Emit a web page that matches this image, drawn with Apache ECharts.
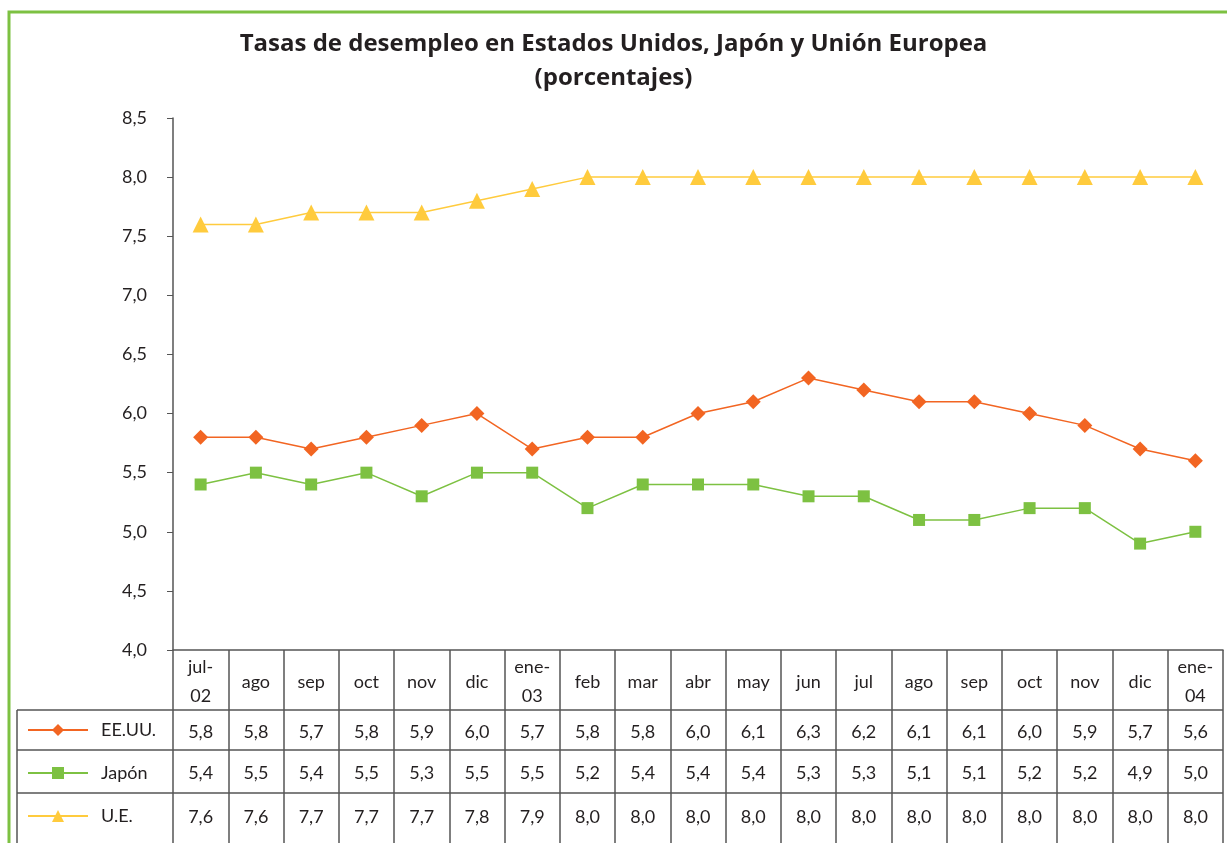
<!DOCTYPE html>
<html>
<head>
<meta charset="utf-8">
<script src="https://cdn.jsdelivr.net/npm/echarts@6/dist/echarts.min.js"></script>
<style>
  html, body { margin: 0; padding: 0; background: #fff; }
  #chart { width: 1227px; height: 843px; }
</style>
</head>
<body>
<div id="chart"></div>
<script>
// datos
const months = ['jul-\n02', 'ago', 'sep', 'oct', 'nov', 'dic', 'ene-\n03', 'feb', 'mar', 'abr',
  'may', 'jun', 'jul', 'ago', 'sep', 'oct', 'nov', 'dic', 'ene-\n04'];
const eeuu = [5.8, 5.8, 5.7, 5.8, 5.9, 6.0, 5.7, 5.8, 5.8, 6.0, 6.1, 6.3, 6.2, 6.1, 6.1, 6.0, 5.9, 5.7, 5.6];
const japon = [5.4, 5.5, 5.4, 5.5, 5.3, 5.5, 5.5, 5.2, 5.4, 5.4, 5.4, 5.3, 5.3, 5.1, 5.1, 5.2, 5.2, 4.9, 5.0];
const ue = [7.6, 7.6, 7.7, 7.7, 7.7, 7.8, 7.9, 8.0, 8.0, 8.0, 8.0, 8.0, 8.0, 8.0, 8.0, 8.0, 8.0, 8.0, 8.0];
const seriesNames = ['EE.UU.', 'Japón', 'U.E.'];

const FONT = 'Lato, "Open Sans", sans-serif';
const TXT = '#231f20';
const LINE = '#555';

const fmt = (v) => v.toFixed(1).replace('.', ',');

const chart = echarts.init(document.getElementById('chart'));

// fila de la tabla: un eje de categorias extra por serie
function rowAxis(values, margin) {
  return {
    type: 'category',
    position: 'bottom',
    gridIndex: 0,
    data: values.map(fmt),
    boundaryGap: true,
    axisLine: { show: false },
    axisTick: { show: false },
    axisLabel: {
      interval: 0,
      margin: margin,
      verticalAlign: 'middle',
      fontFamily: FONT,
      fontSize: 18,
      color: TXT,
    },
  };
}

const option = {
  animation: false,
  title: {
    text: 'Tasas de desempleo en Estados Unidos, Japón y Unión Europea\n(porcentajes)',
    left: 'center',
    top: 22,
    textStyle: {
      fontFamily: '"Open Sans", Lato, sans-serif',
      fontSize: 24,
      fontWeight: 'bold',
      color: TXT,
      lineHeight: 34,
    },
  },
  legend: {
    orient: 'vertical',
    left: 22,
    top: 716,
    itemWidth: 60,
    itemHeight: 15,
    itemGap: 25,
    textStyle: { fontFamily: FONT, fontSize: 18, color: TXT, padding: [0, 0, 0, 8] },
    data: seriesNames,
  },
  grid: { left: 173, right: 4, top: 118, bottom: 193 },
  xAxis: [
    {
      type: 'category',
      data: months,
      boundaryGap: true,
      axisLine: { lineStyle: { color: LINE, width: 1.5 } },
      axisTick: { show: true, length: 200, lineStyle: { color: LINE, width: 1.5 } },
      axisLabel: {
        interval: 0,
        margin: 32,
        verticalAlign: 'middle',
        lineHeight: 29,
        fontFamily: FONT,
        fontSize: 18,
        color: TXT,
      },
    },
    rowAxis(eeuu, 82),
    rowAxis(japon, 123),
    rowAxis(ue, 167),
  ],
  yAxis: {
    type: 'value',
    min: 4,
    max: 8.5,
    interval: 0.5,
    axisLine: { show: true, lineStyle: { color: LINE, width: 1.5 } },
    axisTick: { show: true, length: 6, lineStyle: { color: LINE } },
    splitLine: { show: false },
    axisLabel: {
      margin: 26,
      fontFamily: FONT,
      fontSize: 18,
      color: TXT,
      formatter: (v) => fmt(v),
    },
  },
  series: [
    {
      name: 'EE.UU.',
      type: 'line',
      data: eeuu,
      symbol: 'diamond',
      symbolSize: 15,
      color: '#f26522',
      lineStyle: { width: 1.5 },
    },
    {
      name: 'Japón',
      type: 'line',
      data: japon,
      symbol: 'rect',
      symbolSize: 12,
      color: '#7dc142',
      lineStyle: { width: 1.5 },
    },
    {
      name: 'U.E.',
      type: 'line',
      data: ue,
      symbol: 'triangle',
      symbolSize: 16,
      color: '#ffcb3d',
      lineStyle: { width: 1.5 },
    },
  ],
  graphic: [
    // marco verde
    {
      type: 'rect',
      shape: { x: 9, y: 12, width: 1260, height: 900 },
      style: { fill: 'none', stroke: '#7dc142', lineWidth: 3 },
    },
    // lineas horizontales de la tabla
    { type: 'line', shape: { x1: 17, y1: 710, x2: 1223, y2: 710 }, style: { stroke: LINE, lineWidth: 1.5 } },
    { type: 'line', shape: { x1: 17, y1: 750, x2: 1223, y2: 750 }, style: { stroke: LINE, lineWidth: 1.5 } },
    { type: 'line', shape: { x1: 17, y1: 793, x2: 1223, y2: 793 }, style: { stroke: LINE, lineWidth: 1.5 } },
    { type: 'line', shape: { x1: 17, y1: 710, x2: 17, y2: 850 }, style: { stroke: LINE, lineWidth: 1.5 } },
  ],
};

chart.setOption(option);
</script>
</body>
</html>
